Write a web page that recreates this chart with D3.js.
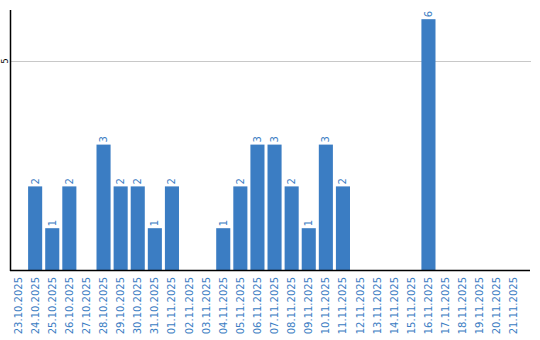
<!DOCTYPE html>
<html lang="en">
<head>
    <meta charset="UTF-8">
    <title>Daily count</title>
    <script src="https://cdn.jsdelivr.net/npm/d3@7"></script>
    <style>
        body { margin: 0; background: #fff; }
        text { font-family: "DejaVu Sans", Verdana, sans-serif; }
    </style>
</head>
<body>
    <div id="chart"></div>
    <script>
        // days shown on the x axis
        const days = ["23.10.2025", "24.10.2025", "25.10.2025", "26.10.2025", "27.10.2025",
            "28.10.2025", "29.10.2025", "30.10.2025", "31.10.2025", "01.11.2025",
            "02.11.2025", "03.11.2025", "04.11.2025", "05.11.2025", "06.11.2025",
            "07.11.2025", "08.11.2025", "09.11.2025", "10.11.2025", "11.11.2025",
            "12.11.2025", "13.11.2025", "14.11.2025", "15.11.2025", "16.11.2025",
            "17.11.2025", "18.11.2025", "19.11.2025", "20.11.2025", "21.11.2025"];
        const counts = [0, 2, 1, 2, 0, 3, 2, 2, 1, 2, 0, 0, 1, 2, 3, 3, 2, 1, 3, 2,
            0, 0, 0, 0, 6, 0, 0, 0, 0, 0];
        const yTicks = [5];

        const width = 540, height = 340;
        const plotLeft = 10, plotRight = 530, plotTop = 10, plotBottom = 270;
        const blue = "#3b7dc3";

        const svg = d3.select("#chart").append("svg")
            .attr("width", width)
            .attr("height", height);

        const x = d3.scaleBand()
            .domain(days)
            .range([plotLeft + 1, plotLeft + 1 + 17 * days.length])
            .paddingInner(3 / 17)
            .paddingOuter(0);

        const y = d3.scaleLinear()
            .domain([0, 6.22])
            .range([plotBottom, plotTop]);

        const bars = counts.map((v, i) => ({ day: days[i], v })).filter(d => d.v > 0);

        // grid line
        svg.append("g")
            .selectAll("line")
            .data(yTicks)
            .join("line")
            .attr("x1", plotLeft)
            .attr("x2", plotRight + 1)
            .attr("y1", d => Math.round(y(d)) + 0.5)
            .attr("y2", d => Math.round(y(d)) + 0.5)
            .attr("stroke", "#c8c8c8")
            .attr("stroke-width", 1);

        // y tick labels
        svg.append("g")
            .selectAll("text")
            .data(yTicks)
            .join("text")
            .attr("transform", d => `translate(8,${y(d)}) rotate(-90)`)
            .attr("text-anchor", "middle")
            .attr("font-size", 8)
            .attr("fill", "#000")
            .text(d => d);

        // bars
        svg.append("g")
            .selectAll("rect")
            .data(bars)
            .join("rect")
            .attr("x", d => x(d.day))
            .attr("y", d => y(d.v))
            .attr("width", x.bandwidth())
            .attr("height", d => plotBottom - y(d.v))
            .attr("fill", blue);

        // value labels
        svg.append("g")
            .selectAll("text")
            .data(bars)
            .join("text")
            .attr("transform", d => `translate(${x(d.day) + x.bandwidth() / 2 + 3.5},${y(d.v) - 2}) rotate(-90)`)
            .attr("font-size", 10)
            .attr("fill", blue)
            .text(d => d.v);

        // axis lines
        svg.append("line")
            .attr("x1", plotLeft + 0.5).attr("x2", plotLeft + 0.5)
            .attr("y1", plotTop).attr("y2", plotBottom + 1)
            .attr("stroke", "#000").attr("stroke-width", 1.5);
        svg.append("line")
            .attr("x1", plotLeft).attr("x2", plotRight)
            .attr("y1", plotBottom + 0.5).attr("y2", plotBottom + 0.5)
            .attr("stroke", "#000").attr("stroke-width", 1.5);

        // x labels
        svg.append("g")
            .selectAll("text")
            .data(days)
            .join("text")
            .attr("transform", d => `translate(${x(d) + x.bandwidth() / 2 + 3.5},277) rotate(-90)`)
            .attr("text-anchor", "end")
            .attr("font-size", 10)
            .attr("fill", blue)
            .text(d => d);
    </script>
</body>
</html>
